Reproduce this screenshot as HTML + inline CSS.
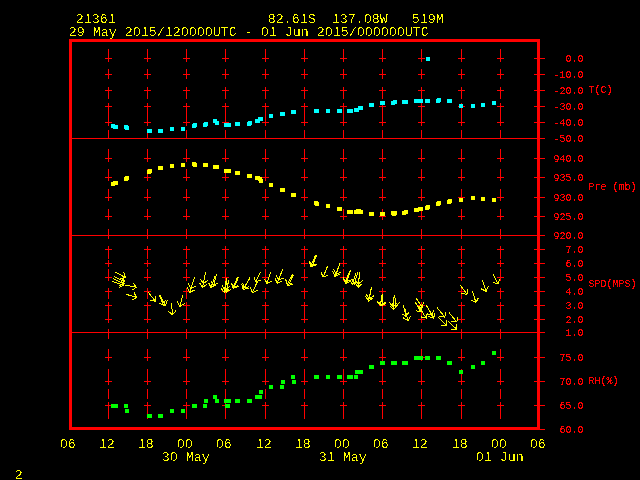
<!DOCTYPE html>
<html><head><meta charset="utf-8"><title>Meteogram 21361</title>
<style>
html,body{margin:0;padding:0;background:#000;}
body{width:640px;height:480px;position:relative;overflow:hidden;}
.y,.r{position:absolute;white-space:pre;font-family:"Liberation Mono",monospace;}
.y{color:#ffff00;font-size:13.33px;line-height:15px;filter:url(#crisp);}
.r{color:#ff0000;font-size:10px;line-height:12px;filter:url(#crisp4);}
</style></head><body>
<svg width="640" height="480" viewBox="0 0 640 480" shape-rendering="crispEdges" style="position:absolute;left:0;top:0">
<defs><filter id="crisp" color-interpolation-filters="sRGB" x="0" y="0" width="1" height="1"><feComponentTransfer result="bin"><feFuncA type="discrete" tableValues="0 0 0 0 0 0 0 0 0 0 0 0 1 1 1 1 1 1 1 1"/></feComponentTransfer><feConvolveMatrix in="bin" order="3" kernelMatrix="1 1 1 1 0 1 1 1 1" divisor="1" bias="0" edgeMode="none" preserveAlpha="false" result="nb"/><feComposite in="bin" in2="nb" operator="in"/></filter></defs>
<defs><filter id="crisp4" color-interpolation-filters="sRGB" x="0" y="0" width="1" height="1"><feComponentTransfer><feFuncA type="discrete" tableValues="0 0 0 0 0 0 0 0 1 1 1 1 1 1 1 1 1 1 1 1"/></feComponentTransfer></filter></defs>
<g fill="#ff0000">
<rect x="108" y="49" width="1" height="13"/>
<rect x="108" y="69" width="1" height="10"/>
<rect x="108" y="87" width="1" height="12"/>
<rect x="108" y="103" width="1" height="23"/>
<rect x="108" y="130" width="1" height="9"/>
<rect x="108" y="149" width="1" height="13"/>
<rect x="108" y="169" width="1" height="12"/>
<rect x="108" y="189" width="1" height="12"/>
<rect x="108" y="209" width="1" height="11"/>
<rect x="108" y="229" width="1" height="10"/>
<rect x="108" y="246" width="1" height="13"/>
<rect x="108" y="260" width="1" height="7"/>
<rect x="108" y="269" width="1" height="12"/>
<rect x="108" y="288" width="1" height="11"/>
<rect x="108" y="302" width="1" height="21"/>
<rect x="108" y="329" width="1" height="10"/>
<rect x="108" y="349" width="1" height="12"/>
<rect x="108" y="369" width="1" height="16"/>
<rect x="108" y="389" width="1" height="10"/>
<rect x="108" y="402" width="1" height="17"/>
<rect x="105" y="58" width="7" height="1"/>
<rect x="105" y="74" width="7" height="1"/>
<rect x="105" y="90" width="7" height="1"/>
<rect x="105" y="106" width="7" height="1"/>
<rect x="105" y="122" width="7" height="1"/>
<rect x="105" y="158" width="7" height="1"/>
<rect x="105" y="177" width="7" height="1"/>
<rect x="105" y="197" width="7" height="1"/>
<rect x="105" y="216" width="7" height="1"/>
<rect x="105" y="249" width="7" height="1"/>
<rect x="105" y="263" width="7" height="1"/>
<rect x="105" y="277" width="7" height="1"/>
<rect x="105" y="291" width="7" height="1"/>
<rect x="105" y="305" width="7" height="1"/>
<rect x="105" y="319" width="7" height="1"/>
<rect x="105" y="357" width="7" height="1"/>
<rect x="105" y="381" width="7" height="1"/>
<rect x="105" y="405" width="7" height="1"/>
<rect x="147" y="49" width="1" height="13"/>
<rect x="147" y="69" width="1" height="10"/>
<rect x="147" y="87" width="1" height="12"/>
<rect x="147" y="103" width="1" height="23"/>
<rect x="147" y="130" width="1" height="9"/>
<rect x="147" y="149" width="1" height="13"/>
<rect x="147" y="169" width="1" height="12"/>
<rect x="147" y="189" width="1" height="12"/>
<rect x="147" y="209" width="1" height="11"/>
<rect x="147" y="229" width="1" height="10"/>
<rect x="147" y="246" width="1" height="13"/>
<rect x="147" y="260" width="1" height="7"/>
<rect x="147" y="269" width="1" height="12"/>
<rect x="147" y="288" width="1" height="11"/>
<rect x="147" y="302" width="1" height="21"/>
<rect x="147" y="329" width="1" height="10"/>
<rect x="147" y="349" width="1" height="12"/>
<rect x="147" y="369" width="1" height="16"/>
<rect x="147" y="389" width="1" height="10"/>
<rect x="147" y="402" width="1" height="17"/>
<rect x="144" y="58" width="7" height="1"/>
<rect x="144" y="74" width="7" height="1"/>
<rect x="144" y="90" width="7" height="1"/>
<rect x="144" y="106" width="7" height="1"/>
<rect x="144" y="122" width="7" height="1"/>
<rect x="144" y="158" width="7" height="1"/>
<rect x="144" y="177" width="7" height="1"/>
<rect x="144" y="197" width="7" height="1"/>
<rect x="144" y="216" width="7" height="1"/>
<rect x="144" y="249" width="7" height="1"/>
<rect x="144" y="263" width="7" height="1"/>
<rect x="144" y="277" width="7" height="1"/>
<rect x="144" y="291" width="7" height="1"/>
<rect x="144" y="305" width="7" height="1"/>
<rect x="144" y="319" width="7" height="1"/>
<rect x="144" y="357" width="7" height="1"/>
<rect x="144" y="381" width="7" height="1"/>
<rect x="144" y="405" width="7" height="1"/>
<rect x="186" y="49" width="1" height="13"/>
<rect x="186" y="69" width="1" height="10"/>
<rect x="186" y="87" width="1" height="12"/>
<rect x="186" y="103" width="1" height="23"/>
<rect x="186" y="130" width="1" height="9"/>
<rect x="186" y="149" width="1" height="13"/>
<rect x="186" y="169" width="1" height="12"/>
<rect x="186" y="189" width="1" height="12"/>
<rect x="186" y="209" width="1" height="11"/>
<rect x="186" y="229" width="1" height="10"/>
<rect x="186" y="246" width="1" height="13"/>
<rect x="186" y="260" width="1" height="7"/>
<rect x="186" y="269" width="1" height="12"/>
<rect x="186" y="288" width="1" height="11"/>
<rect x="186" y="302" width="1" height="21"/>
<rect x="186" y="329" width="1" height="10"/>
<rect x="186" y="349" width="1" height="12"/>
<rect x="186" y="369" width="1" height="16"/>
<rect x="186" y="389" width="1" height="10"/>
<rect x="186" y="402" width="1" height="17"/>
<rect x="183" y="58" width="7" height="1"/>
<rect x="183" y="74" width="7" height="1"/>
<rect x="183" y="90" width="7" height="1"/>
<rect x="183" y="106" width="7" height="1"/>
<rect x="183" y="122" width="7" height="1"/>
<rect x="183" y="158" width="7" height="1"/>
<rect x="183" y="177" width="7" height="1"/>
<rect x="183" y="197" width="7" height="1"/>
<rect x="183" y="216" width="7" height="1"/>
<rect x="183" y="249" width="7" height="1"/>
<rect x="183" y="263" width="7" height="1"/>
<rect x="183" y="277" width="7" height="1"/>
<rect x="183" y="291" width="7" height="1"/>
<rect x="183" y="305" width="7" height="1"/>
<rect x="183" y="319" width="7" height="1"/>
<rect x="183" y="357" width="7" height="1"/>
<rect x="183" y="381" width="7" height="1"/>
<rect x="183" y="405" width="7" height="1"/>
<rect x="225" y="49" width="1" height="13"/>
<rect x="225" y="69" width="1" height="10"/>
<rect x="225" y="87" width="1" height="12"/>
<rect x="225" y="103" width="1" height="23"/>
<rect x="225" y="130" width="1" height="9"/>
<rect x="225" y="149" width="1" height="13"/>
<rect x="225" y="169" width="1" height="12"/>
<rect x="225" y="189" width="1" height="12"/>
<rect x="225" y="209" width="1" height="11"/>
<rect x="225" y="229" width="1" height="10"/>
<rect x="225" y="246" width="1" height="13"/>
<rect x="225" y="260" width="1" height="7"/>
<rect x="225" y="269" width="1" height="12"/>
<rect x="225" y="288" width="1" height="11"/>
<rect x="225" y="302" width="1" height="21"/>
<rect x="225" y="329" width="1" height="10"/>
<rect x="225" y="349" width="1" height="12"/>
<rect x="225" y="369" width="1" height="16"/>
<rect x="225" y="389" width="1" height="10"/>
<rect x="225" y="402" width="1" height="17"/>
<rect x="222" y="58" width="7" height="1"/>
<rect x="222" y="74" width="7" height="1"/>
<rect x="222" y="90" width="7" height="1"/>
<rect x="222" y="106" width="7" height="1"/>
<rect x="222" y="122" width="7" height="1"/>
<rect x="222" y="158" width="7" height="1"/>
<rect x="222" y="177" width="7" height="1"/>
<rect x="222" y="197" width="7" height="1"/>
<rect x="222" y="216" width="7" height="1"/>
<rect x="222" y="249" width="7" height="1"/>
<rect x="222" y="263" width="7" height="1"/>
<rect x="222" y="277" width="7" height="1"/>
<rect x="222" y="291" width="7" height="1"/>
<rect x="222" y="305" width="7" height="1"/>
<rect x="222" y="319" width="7" height="1"/>
<rect x="222" y="357" width="7" height="1"/>
<rect x="222" y="381" width="7" height="1"/>
<rect x="222" y="405" width="7" height="1"/>
<rect x="265" y="49" width="1" height="13"/>
<rect x="265" y="69" width="1" height="10"/>
<rect x="265" y="87" width="1" height="12"/>
<rect x="265" y="103" width="1" height="23"/>
<rect x="265" y="130" width="1" height="9"/>
<rect x="265" y="149" width="1" height="13"/>
<rect x="265" y="169" width="1" height="12"/>
<rect x="265" y="189" width="1" height="12"/>
<rect x="265" y="209" width="1" height="11"/>
<rect x="265" y="229" width="1" height="10"/>
<rect x="265" y="246" width="1" height="13"/>
<rect x="265" y="260" width="1" height="7"/>
<rect x="265" y="269" width="1" height="12"/>
<rect x="265" y="288" width="1" height="11"/>
<rect x="265" y="302" width="1" height="21"/>
<rect x="265" y="329" width="1" height="10"/>
<rect x="265" y="349" width="1" height="12"/>
<rect x="265" y="369" width="1" height="16"/>
<rect x="265" y="389" width="1" height="10"/>
<rect x="265" y="402" width="1" height="17"/>
<rect x="262" y="58" width="7" height="1"/>
<rect x="262" y="74" width="7" height="1"/>
<rect x="262" y="90" width="7" height="1"/>
<rect x="262" y="106" width="7" height="1"/>
<rect x="262" y="122" width="7" height="1"/>
<rect x="262" y="158" width="7" height="1"/>
<rect x="262" y="177" width="7" height="1"/>
<rect x="262" y="197" width="7" height="1"/>
<rect x="262" y="216" width="7" height="1"/>
<rect x="262" y="249" width="7" height="1"/>
<rect x="262" y="263" width="7" height="1"/>
<rect x="262" y="277" width="7" height="1"/>
<rect x="262" y="291" width="7" height="1"/>
<rect x="262" y="305" width="7" height="1"/>
<rect x="262" y="319" width="7" height="1"/>
<rect x="262" y="357" width="7" height="1"/>
<rect x="262" y="381" width="7" height="1"/>
<rect x="262" y="405" width="7" height="1"/>
<rect x="304" y="49" width="1" height="13"/>
<rect x="304" y="69" width="1" height="10"/>
<rect x="304" y="87" width="1" height="12"/>
<rect x="304" y="103" width="1" height="23"/>
<rect x="304" y="130" width="1" height="9"/>
<rect x="304" y="149" width="1" height="13"/>
<rect x="304" y="169" width="1" height="12"/>
<rect x="304" y="189" width="1" height="12"/>
<rect x="304" y="209" width="1" height="11"/>
<rect x="304" y="229" width="1" height="10"/>
<rect x="304" y="246" width="1" height="13"/>
<rect x="304" y="260" width="1" height="7"/>
<rect x="304" y="269" width="1" height="12"/>
<rect x="304" y="288" width="1" height="11"/>
<rect x="304" y="302" width="1" height="21"/>
<rect x="304" y="329" width="1" height="10"/>
<rect x="304" y="349" width="1" height="12"/>
<rect x="304" y="369" width="1" height="16"/>
<rect x="304" y="389" width="1" height="10"/>
<rect x="304" y="402" width="1" height="17"/>
<rect x="301" y="58" width="7" height="1"/>
<rect x="301" y="74" width="7" height="1"/>
<rect x="301" y="90" width="7" height="1"/>
<rect x="301" y="106" width="7" height="1"/>
<rect x="301" y="122" width="7" height="1"/>
<rect x="301" y="158" width="7" height="1"/>
<rect x="301" y="177" width="7" height="1"/>
<rect x="301" y="197" width="7" height="1"/>
<rect x="301" y="216" width="7" height="1"/>
<rect x="301" y="249" width="7" height="1"/>
<rect x="301" y="263" width="7" height="1"/>
<rect x="301" y="277" width="7" height="1"/>
<rect x="301" y="291" width="7" height="1"/>
<rect x="301" y="305" width="7" height="1"/>
<rect x="301" y="319" width="7" height="1"/>
<rect x="301" y="357" width="7" height="1"/>
<rect x="301" y="381" width="7" height="1"/>
<rect x="301" y="405" width="7" height="1"/>
<rect x="343" y="49" width="1" height="13"/>
<rect x="343" y="69" width="1" height="10"/>
<rect x="343" y="87" width="1" height="12"/>
<rect x="343" y="103" width="1" height="23"/>
<rect x="343" y="130" width="1" height="9"/>
<rect x="343" y="149" width="1" height="13"/>
<rect x="343" y="169" width="1" height="12"/>
<rect x="343" y="189" width="1" height="12"/>
<rect x="343" y="209" width="1" height="11"/>
<rect x="343" y="229" width="1" height="10"/>
<rect x="343" y="246" width="1" height="13"/>
<rect x="343" y="260" width="1" height="7"/>
<rect x="343" y="269" width="1" height="12"/>
<rect x="343" y="288" width="1" height="11"/>
<rect x="343" y="302" width="1" height="21"/>
<rect x="343" y="329" width="1" height="10"/>
<rect x="343" y="349" width="1" height="12"/>
<rect x="343" y="369" width="1" height="16"/>
<rect x="343" y="389" width="1" height="10"/>
<rect x="343" y="402" width="1" height="17"/>
<rect x="340" y="58" width="7" height="1"/>
<rect x="340" y="74" width="7" height="1"/>
<rect x="340" y="90" width="7" height="1"/>
<rect x="340" y="106" width="7" height="1"/>
<rect x="340" y="122" width="7" height="1"/>
<rect x="340" y="158" width="7" height="1"/>
<rect x="340" y="177" width="7" height="1"/>
<rect x="340" y="197" width="7" height="1"/>
<rect x="340" y="216" width="7" height="1"/>
<rect x="340" y="249" width="7" height="1"/>
<rect x="340" y="263" width="7" height="1"/>
<rect x="340" y="277" width="7" height="1"/>
<rect x="340" y="291" width="7" height="1"/>
<rect x="340" y="305" width="7" height="1"/>
<rect x="340" y="319" width="7" height="1"/>
<rect x="340" y="357" width="7" height="1"/>
<rect x="340" y="381" width="7" height="1"/>
<rect x="340" y="405" width="7" height="1"/>
<rect x="382" y="49" width="1" height="13"/>
<rect x="382" y="69" width="1" height="10"/>
<rect x="382" y="87" width="1" height="12"/>
<rect x="382" y="103" width="1" height="23"/>
<rect x="382" y="130" width="1" height="9"/>
<rect x="382" y="149" width="1" height="13"/>
<rect x="382" y="169" width="1" height="12"/>
<rect x="382" y="189" width="1" height="12"/>
<rect x="382" y="209" width="1" height="11"/>
<rect x="382" y="229" width="1" height="10"/>
<rect x="382" y="246" width="1" height="13"/>
<rect x="382" y="260" width="1" height="7"/>
<rect x="382" y="269" width="1" height="12"/>
<rect x="382" y="288" width="1" height="11"/>
<rect x="382" y="302" width="1" height="21"/>
<rect x="382" y="329" width="1" height="10"/>
<rect x="382" y="349" width="1" height="12"/>
<rect x="382" y="369" width="1" height="16"/>
<rect x="382" y="389" width="1" height="10"/>
<rect x="382" y="402" width="1" height="17"/>
<rect x="379" y="58" width="7" height="1"/>
<rect x="379" y="74" width="7" height="1"/>
<rect x="379" y="90" width="7" height="1"/>
<rect x="379" y="106" width="7" height="1"/>
<rect x="379" y="122" width="7" height="1"/>
<rect x="379" y="158" width="7" height="1"/>
<rect x="379" y="177" width="7" height="1"/>
<rect x="379" y="197" width="7" height="1"/>
<rect x="379" y="216" width="7" height="1"/>
<rect x="379" y="249" width="7" height="1"/>
<rect x="379" y="263" width="7" height="1"/>
<rect x="379" y="277" width="7" height="1"/>
<rect x="379" y="291" width="7" height="1"/>
<rect x="379" y="305" width="7" height="1"/>
<rect x="379" y="319" width="7" height="1"/>
<rect x="379" y="357" width="7" height="1"/>
<rect x="379" y="381" width="7" height="1"/>
<rect x="379" y="405" width="7" height="1"/>
<rect x="421" y="49" width="1" height="13"/>
<rect x="421" y="69" width="1" height="10"/>
<rect x="421" y="87" width="1" height="12"/>
<rect x="421" y="103" width="1" height="23"/>
<rect x="421" y="130" width="1" height="9"/>
<rect x="421" y="149" width="1" height="13"/>
<rect x="421" y="169" width="1" height="12"/>
<rect x="421" y="189" width="1" height="12"/>
<rect x="421" y="209" width="1" height="11"/>
<rect x="421" y="229" width="1" height="10"/>
<rect x="421" y="246" width="1" height="13"/>
<rect x="421" y="260" width="1" height="7"/>
<rect x="421" y="269" width="1" height="12"/>
<rect x="421" y="288" width="1" height="11"/>
<rect x="421" y="302" width="1" height="21"/>
<rect x="421" y="329" width="1" height="10"/>
<rect x="421" y="349" width="1" height="12"/>
<rect x="421" y="369" width="1" height="16"/>
<rect x="421" y="389" width="1" height="10"/>
<rect x="421" y="402" width="1" height="17"/>
<rect x="418" y="58" width="7" height="1"/>
<rect x="418" y="74" width="7" height="1"/>
<rect x="418" y="90" width="7" height="1"/>
<rect x="418" y="106" width="7" height="1"/>
<rect x="418" y="122" width="7" height="1"/>
<rect x="418" y="158" width="7" height="1"/>
<rect x="418" y="177" width="7" height="1"/>
<rect x="418" y="197" width="7" height="1"/>
<rect x="418" y="216" width="7" height="1"/>
<rect x="418" y="249" width="7" height="1"/>
<rect x="418" y="263" width="7" height="1"/>
<rect x="418" y="277" width="7" height="1"/>
<rect x="418" y="291" width="7" height="1"/>
<rect x="418" y="305" width="7" height="1"/>
<rect x="418" y="319" width="7" height="1"/>
<rect x="418" y="357" width="7" height="1"/>
<rect x="418" y="381" width="7" height="1"/>
<rect x="418" y="405" width="7" height="1"/>
<rect x="461" y="49" width="1" height="13"/>
<rect x="461" y="69" width="1" height="10"/>
<rect x="461" y="87" width="1" height="12"/>
<rect x="461" y="103" width="1" height="23"/>
<rect x="461" y="130" width="1" height="9"/>
<rect x="461" y="149" width="1" height="13"/>
<rect x="461" y="169" width="1" height="12"/>
<rect x="461" y="189" width="1" height="12"/>
<rect x="461" y="209" width="1" height="11"/>
<rect x="461" y="229" width="1" height="10"/>
<rect x="461" y="246" width="1" height="13"/>
<rect x="461" y="260" width="1" height="7"/>
<rect x="461" y="269" width="1" height="12"/>
<rect x="461" y="288" width="1" height="11"/>
<rect x="461" y="302" width="1" height="21"/>
<rect x="461" y="329" width="1" height="10"/>
<rect x="461" y="349" width="1" height="12"/>
<rect x="461" y="369" width="1" height="16"/>
<rect x="461" y="389" width="1" height="10"/>
<rect x="461" y="402" width="1" height="17"/>
<rect x="458" y="58" width="7" height="1"/>
<rect x="458" y="74" width="7" height="1"/>
<rect x="458" y="90" width="7" height="1"/>
<rect x="458" y="106" width="7" height="1"/>
<rect x="458" y="122" width="7" height="1"/>
<rect x="458" y="158" width="7" height="1"/>
<rect x="458" y="177" width="7" height="1"/>
<rect x="458" y="197" width="7" height="1"/>
<rect x="458" y="216" width="7" height="1"/>
<rect x="458" y="249" width="7" height="1"/>
<rect x="458" y="263" width="7" height="1"/>
<rect x="458" y="277" width="7" height="1"/>
<rect x="458" y="291" width="7" height="1"/>
<rect x="458" y="305" width="7" height="1"/>
<rect x="458" y="319" width="7" height="1"/>
<rect x="458" y="357" width="7" height="1"/>
<rect x="458" y="381" width="7" height="1"/>
<rect x="458" y="405" width="7" height="1"/>
<rect x="500" y="49" width="1" height="13"/>
<rect x="500" y="69" width="1" height="10"/>
<rect x="500" y="87" width="1" height="12"/>
<rect x="500" y="103" width="1" height="23"/>
<rect x="500" y="130" width="1" height="9"/>
<rect x="500" y="149" width="1" height="13"/>
<rect x="500" y="169" width="1" height="12"/>
<rect x="500" y="189" width="1" height="12"/>
<rect x="500" y="209" width="1" height="11"/>
<rect x="500" y="229" width="1" height="10"/>
<rect x="500" y="246" width="1" height="13"/>
<rect x="500" y="260" width="1" height="7"/>
<rect x="500" y="269" width="1" height="12"/>
<rect x="500" y="288" width="1" height="11"/>
<rect x="500" y="302" width="1" height="21"/>
<rect x="500" y="329" width="1" height="10"/>
<rect x="500" y="349" width="1" height="12"/>
<rect x="500" y="369" width="1" height="16"/>
<rect x="500" y="389" width="1" height="10"/>
<rect x="500" y="402" width="1" height="17"/>
<rect x="497" y="58" width="7" height="1"/>
<rect x="497" y="74" width="7" height="1"/>
<rect x="497" y="90" width="7" height="1"/>
<rect x="497" y="106" width="7" height="1"/>
<rect x="497" y="122" width="7" height="1"/>
<rect x="497" y="158" width="7" height="1"/>
<rect x="497" y="177" width="7" height="1"/>
<rect x="497" y="197" width="7" height="1"/>
<rect x="497" y="216" width="7" height="1"/>
<rect x="497" y="249" width="7" height="1"/>
<rect x="497" y="263" width="7" height="1"/>
<rect x="497" y="277" width="7" height="1"/>
<rect x="497" y="291" width="7" height="1"/>
<rect x="497" y="305" width="7" height="1"/>
<rect x="497" y="319" width="7" height="1"/>
<rect x="497" y="357" width="7" height="1"/>
<rect x="497" y="381" width="7" height="1"/>
<rect x="497" y="405" width="7" height="1"/>
<rect x="72" y="138" width="465" height="1"/>
<rect x="72" y="235" width="465" height="1"/>
<rect x="72" y="332" width="465" height="1"/>
<rect x="534" y="58" width="11" height="1"/>
<rect x="534" y="74" width="11" height="1"/>
<rect x="534" y="90" width="11" height="1"/>
<rect x="534" y="106" width="11" height="1"/>
<rect x="534" y="122" width="11" height="1"/>
<rect x="534" y="138" width="11" height="1"/>
<rect x="534" y="158" width="11" height="1"/>
<rect x="534" y="177" width="11" height="1"/>
<rect x="534" y="197" width="11" height="1"/>
<rect x="534" y="216" width="11" height="1"/>
<rect x="534" y="235" width="11" height="1"/>
<rect x="534" y="249" width="11" height="1"/>
<rect x="534" y="263" width="11" height="1"/>
<rect x="534" y="277" width="11" height="1"/>
<rect x="534" y="291" width="11" height="1"/>
<rect x="534" y="305" width="11" height="1"/>
<rect x="534" y="319" width="11" height="1"/>
<rect x="534" y="332" width="11" height="1"/>
<rect x="534" y="357" width="11" height="1"/>
<rect x="534" y="381" width="11" height="1"/>
<rect x="534" y="405" width="11" height="1"/>
<rect x="534" y="429" width="11" height="1"/>
<rect x="69" y="39" width="471" height="3"/>
<rect x="69" y="427" width="471" height="3"/>
<rect x="69" y="39" width="3" height="391"/>
<rect x="537" y="39" width="3" height="391"/>
</g>
<g fill="#00ffff">
<rect x="111" y="124" width="4" height="4"/>
<rect x="113" y="125" width="5" height="4"/>
<rect x="124" y="125" width="4" height="4"/>
<rect x="125" y="126" width="4" height="4"/>
<rect x="147" y="129" width="5" height="4"/>
<rect x="158" y="129" width="5" height="4"/>
<rect x="170" y="127" width="4" height="4"/>
<rect x="181" y="127" width="4" height="4"/>
<rect x="192" y="124" width="4" height="4"/>
<rect x="193" y="123" width="4" height="4"/>
<rect x="203" y="123" width="4" height="4"/>
<rect x="204" y="122" width="4" height="4"/>
<rect x="213" y="119" width="4" height="4"/>
<rect x="215" y="121" width="4" height="4"/>
<rect x="224" y="123" width="7" height="4"/>
<rect x="235" y="122" width="5" height="4"/>
<rect x="247" y="122" width="4" height="4"/>
<rect x="248" y="121" width="4" height="4"/>
<rect x="255" y="119" width="5" height="4"/>
<rect x="258" y="117" width="5" height="4"/>
<rect x="269" y="114" width="4" height="4"/>
<rect x="280" y="112" width="5" height="4"/>
<rect x="291" y="110" width="5" height="4"/>
<rect x="314" y="109" width="5" height="4"/>
<rect x="326" y="109" width="4" height="4"/>
<rect x="337" y="109" width="5" height="4"/>
<rect x="347" y="109" width="6" height="4"/>
<rect x="354" y="108" width="5" height="4"/>
<rect x="358" y="106" width="5" height="4"/>
<rect x="369" y="103" width="5" height="4"/>
<rect x="380" y="101" width="5" height="4"/>
<rect x="391" y="101" width="4" height="4"/>
<rect x="393" y="100" width="4" height="4"/>
<rect x="402" y="100" width="6" height="4"/>
<rect x="414" y="99" width="9" height="4"/>
<rect x="425" y="99" width="5" height="4"/>
<rect x="436" y="99" width="4" height="4"/>
<rect x="437" y="98" width="4" height="4"/>
<rect x="447" y="99" width="5" height="4"/>
<rect x="459" y="104" width="4" height="4"/>
<rect x="471" y="104" width="4" height="4"/>
<rect x="481" y="103" width="4" height="4"/>
<rect x="492" y="101" width="4" height="4"/>
<rect x="426" y="57" width="4" height="4"/>
</g>
<g fill="#ffff00">
<rect x="111" y="182" width="4" height="4"/>
<rect x="113" y="181" width="5" height="4"/>
<rect x="124" y="177" width="4" height="4"/>
<rect x="125" y="176" width="4" height="4"/>
<rect x="147" y="170" width="4" height="4"/>
<rect x="148" y="169" width="4" height="4"/>
<rect x="158" y="166" width="5" height="4"/>
<rect x="170" y="164" width="4" height="4"/>
<rect x="181" y="163" width="4" height="4"/>
<rect x="192" y="162" width="4" height="4"/>
<rect x="193" y="163" width="4" height="4"/>
<rect x="203" y="163" width="5" height="4"/>
<rect x="213" y="165" width="6" height="4"/>
<rect x="224" y="169" width="7" height="4"/>
<rect x="235" y="171" width="5" height="4"/>
<rect x="247" y="174" width="5" height="4"/>
<rect x="255" y="176" width="5" height="4"/>
<rect x="258" y="177" width="4" height="4"/>
<rect x="259" y="179" width="4" height="4"/>
<rect x="269" y="183" width="4" height="4"/>
<rect x="280" y="188" width="5" height="4"/>
<rect x="291" y="193" width="5" height="4"/>
<rect x="314" y="201" width="4" height="4"/>
<rect x="315" y="202" width="4" height="4"/>
<rect x="326" y="204" width="4" height="4"/>
<rect x="337" y="207" width="5" height="4"/>
<rect x="347" y="210" width="6" height="4"/>
<rect x="354" y="210" width="5" height="4"/>
<rect x="356" y="209" width="5" height="4"/>
<rect x="358" y="210" width="5" height="4"/>
<rect x="369" y="212" width="5" height="4"/>
<rect x="380" y="212" width="5" height="4"/>
<rect x="391" y="211" width="6" height="4"/>
<rect x="392" y="212" width="4" height="4"/>
<rect x="402" y="211" width="4" height="4"/>
<rect x="404" y="210" width="4" height="4"/>
<rect x="414" y="208" width="5" height="4"/>
<rect x="418" y="207" width="5" height="4"/>
<rect x="425" y="206" width="4" height="4"/>
<rect x="426" y="205" width="4" height="4"/>
<rect x="436" y="202" width="4" height="4"/>
<rect x="437" y="201" width="4" height="4"/>
<rect x="447" y="200" width="4" height="4"/>
<rect x="448" y="199" width="4" height="4"/>
<rect x="459" y="198" width="4" height="4"/>
<rect x="471" y="196" width="4" height="4"/>
<rect x="481" y="197" width="4" height="4"/>
<rect x="492" y="198" width="4" height="4"/>
</g>
<g fill="#00ff00">
<rect x="111" y="404" width="7" height="4"/>
<rect x="124" y="404" width="4" height="4"/>
<rect x="125" y="409" width="4" height="4"/>
<rect x="147" y="414" width="5" height="4"/>
<rect x="158" y="414" width="5" height="4"/>
<rect x="170" y="409" width="4" height="4"/>
<rect x="181" y="409" width="4" height="4"/>
<rect x="192" y="404" width="5" height="4"/>
<rect x="203" y="404" width="4" height="4"/>
<rect x="204" y="399" width="4" height="4"/>
<rect x="213" y="395" width="4" height="4"/>
<rect x="215" y="399" width="4" height="4"/>
<rect x="224" y="399" width="7" height="4"/>
<rect x="225" y="404" width="5" height="4"/>
<rect x="235" y="399" width="5" height="4"/>
<rect x="247" y="399" width="5" height="4"/>
<rect x="255" y="395" width="7" height="4"/>
<rect x="259" y="390" width="4" height="4"/>
<rect x="269" y="385" width="4" height="4"/>
<rect x="280" y="385" width="4" height="4"/>
<rect x="281" y="380" width="4" height="4"/>
<rect x="291" y="375" width="4" height="4"/>
<rect x="292" y="380" width="4" height="4"/>
<rect x="314" y="375" width="5" height="4"/>
<rect x="326" y="375" width="4" height="4"/>
<rect x="337" y="375" width="5" height="4"/>
<rect x="347" y="375" width="6" height="4"/>
<rect x="354" y="375" width="4" height="4"/>
<rect x="355" y="370" width="8" height="4"/>
<rect x="369" y="365" width="5" height="4"/>
<rect x="380" y="361" width="5" height="4"/>
<rect x="391" y="361" width="6" height="4"/>
<rect x="402" y="361" width="6" height="4"/>
<rect x="414" y="356" width="9" height="4"/>
<rect x="425" y="356" width="5" height="4"/>
<rect x="436" y="356" width="5" height="4"/>
<rect x="447" y="361" width="5" height="4"/>
<rect x="459" y="370" width="4" height="4"/>
<rect x="471" y="365" width="4" height="4"/>
<rect x="481" y="361" width="4" height="4"/>
<rect x="492" y="351" width="4" height="4"/>
</g>
<g stroke="#ffff00" stroke-width="1" fill="none" stroke-linecap="square">
<path d="M115.00 272.00L125.30 277.20M123.74 272.45L125.30 277.20L120.55 278.76"/>
<path d="M114.30 276.60L124.50 281.50M122.84 276.78L124.50 281.50L119.78 283.16"/>
<path d="M113.70 278.70L124.20 284.00M122.64 279.25L124.20 284.00L119.45 285.56"/>
<path d="M112.20 281.50L123.70 285.30M121.45 280.83L123.70 285.30L119.23 287.55"/>
<path d="M125.00 285.00L136.30 287.30M133.54 283.13L136.30 287.30L132.13 290.06"/>
<path d="M126.30 294.30L136.60 297.60M134.31 293.15L136.60 297.60L132.15 299.89"/>
<path d="M148.10 292.10L155.25 301.10M155.82 296.13L155.25 301.10L150.28 300.53"/>
<path d="M159.40 295.10L163.50 305.00M165.41 300.38L163.50 305.00L158.88 303.09"/>
<path d="M160.00 295.00L165.50 305.50M166.99 300.73L165.50 305.50L160.73 304.01"/>
<path d="M171.60 303.60L172.40 314.80M175.67 311.02L172.40 314.80L168.62 311.53"/>
<path d="M182.60 295.10L180.00 306.40M184.24 303.75L180.00 306.40L177.35 302.16"/>
<path d="M194.50 277.50L190.90 288.40M195.37 286.15L190.90 288.40L188.65 283.93"/>
<path d="M193.20 281.60L189.60 292.50M194.07 290.25L189.60 292.50L187.35 288.03"/>
<path d="M205.60 272.25L203.30 283.50M207.47 280.74L203.30 283.50L200.54 279.33"/>
<path d="M204.80 276.00L202.50 287.25M206.67 284.49L202.50 287.25L199.74 283.08"/>
<path d="M216.60 274.10L213.60 285.50M217.92 282.98L213.60 285.50L211.08 281.18"/>
<path d="M214.60 277.00L211.00 287.60M215.48 285.39L211.00 287.60L208.79 283.12"/>
<path d="M226.90 278.30L225.30 290.00M229.28 286.98L225.30 290.00L222.28 286.02"/>
<path d="M228.50 281.00L226.30 292.30M230.45 289.51L226.30 292.30L223.51 288.15"/>
<path d="M226.00 281.00L224.20 292.40M228.24 289.46L224.20 292.40L221.26 288.36"/>
<path d="M237.40 277.50L233.00 287.80M237.64 285.94L233.00 287.80L231.14 283.16"/>
<path d="M238.20 277.90L233.80 288.20M238.44 286.34L233.80 288.20L231.94 283.56"/>
<path d="M249.75 278.00L244.00 288.00M248.83 286.70L244.00 288.00L242.70 283.17"/>
<path d="M249.00 279.50L243.30 289.50M248.12 288.18L243.30 289.50L241.98 284.68"/>
<path d="M260.60 272.25L255.50 281.70M260.29 280.27L255.50 281.70L254.07 276.91"/>
<path d="M257.20 282.00L252.40 292.50M257.09 290.75L252.40 292.50L250.65 287.81"/>
<path d="M270.60 272.25L267.00 283.50M271.44 281.21L267.00 283.50L264.71 279.06"/>
<path d="M282.60 269.50L278.50 280.20M283.07 278.16L278.50 280.20L276.46 275.63"/>
<path d="M281.30 272.50L277.15 283.15M281.73 281.14L277.15 283.15L275.14 278.57"/>
<path d="M292.60 274.40L287.30 284.60M292.07 283.09L287.30 284.60L285.79 279.83"/>
<path d="M293.20 275.50L288.00 285.80M292.75 284.24L288.00 285.80L286.44 281.05"/>
<path d="M315.50 255.50L310.80 266.00M315.47 264.22L310.80 266.00L309.02 261.33"/>
<path d="M316.50 256.00L311.80 266.50M316.47 264.72L311.80 266.50L310.02 261.83"/>
<path d="M327.60 266.10L323.10 277.10M327.71 275.17L323.10 277.10L321.17 272.49"/>
<path d="M339.75 263.40L336.20 274.30M340.66 272.03L336.20 274.30L333.93 269.84"/>
<path d="M339.20 265.50L335.00 276.30M339.58 274.29L335.00 276.30L332.99 271.72"/>
<path d="M349.60 271.50L345.20 282.20M349.81 280.27L345.20 282.20L343.27 277.59"/>
<path d="M350.60 270.60L345.90 283.60M350.43 281.48L345.90 283.60L343.78 279.07"/>
<path d="M355.60 273.60L352.50 284.50M356.87 282.07L352.50 284.50L350.07 280.13"/>
<path d="M357.50 273.00L354.50 284.00M358.84 281.52L354.50 284.00L352.02 279.66"/>
<path d="M359.60 272.50L358.40 284.00M362.28 280.85L358.40 284.00L355.25 280.12"/>
<path d="M359.50 275.50L358.10 287.00M362.04 283.92L358.10 287.00L355.02 283.06"/>
<path d="M371.40 287.50L369.20 298.80M373.35 296.01L369.20 298.80L366.41 294.65"/>
<path d="M370.80 289.70L368.60 301.00M372.75 298.21L368.60 301.00L365.81 296.85"/>
<path d="M382.10 294.25L380.40 305.60M384.42 302.63L380.40 305.60L377.43 301.58"/>
<path d="M383.00 294.50L382.00 306.00M385.83 302.78L382.00 306.00L378.78 302.17"/>
<path d="M394.50 295.30L392.40 306.60M396.52 303.77L392.40 306.60L389.57 302.48"/>
<path d="M394.60 295.30L396.30 306.60M399.27 302.58L396.30 306.60L392.28 303.63"/>
<path d="M393.20 298.00L393.60 309.50M397.01 305.84L393.60 309.50L389.94 306.09"/>
<path d="M403.35 305.40L406.30 316.50M408.81 312.17L406.30 316.50L401.97 313.99"/>
<path d="M405.00 309.50L408.00 320.60M410.49 316.26L408.00 320.60L403.66 318.11"/>
<path d="M416.25 298.25L422.30 307.60M423.35 302.71L422.30 307.60L417.41 306.55"/>
<path d="M415.35 302.40L420.90 312.00M422.19 307.17L420.90 312.00L416.07 310.71"/>
<path d="M420.00 308.50L426.20 318.00M427.23 313.11L426.20 318.00L421.31 316.97"/>
<path d="M426.40 305.40L432.00 315.40M433.36 310.59L432.00 315.40L427.19 314.04"/>
<path d="M428.00 308.00L433.60 318.00M434.96 313.19L433.60 318.00L428.79 316.64"/>
<path d="M437.40 308.10L444.90 317.10M445.35 312.12L444.90 317.10L439.92 316.65"/>
<path d="M438.50 317.50L446.40 325.40M446.40 320.40L446.40 325.40L441.40 325.40"/>
<path d="M449.40 313.00L456.90 322.00M457.35 317.02L456.90 322.00L451.92 321.55"/>
<path d="M448.25 321.25L456.50 329.10M456.38 324.10L456.50 329.10L451.50 329.22"/>
<path d="M460.50 285.25L466.90 294.25M467.73 289.32L466.90 294.25L461.97 293.42"/>
<path d="M472.50 291.25L475.90 302.50M478.26 298.09L475.90 302.50L471.49 300.14"/>
<path d="M482.40 280.40L486.00 291.25M488.24 286.78L486.00 291.25L481.53 289.01"/>
<path d="M493.35 274.40L498.00 284.10M499.66 279.38L498.00 284.10L493.28 282.44"/>
</g>
</svg>
<div class="y" style="left:75.75px;top:12px;">21361                   82.61S  137.08W   519M</div>
<div class="y" style="left:68.75px;top:25px;">29 May 2015/120000UTC - 01 Jun 2015/000000UTC</div>
<div class="y" style="left:59.75px;top:437px;">06</div>
<div class="y" style="left:98.75px;top:437px;">12</div>
<div class="y" style="left:137.75px;top:437px;">18</div>
<div class="y" style="left:176.75px;top:437px;">00</div>
<div class="y" style="left:215.75px;top:437px;">06</div>
<div class="y" style="left:255.75px;top:437px;">12</div>
<div class="y" style="left:294.75px;top:437px;">18</div>
<div class="y" style="left:333.75px;top:437px;">00</div>
<div class="y" style="left:372.75px;top:437px;">06</div>
<div class="y" style="left:411.75px;top:437px;">12</div>
<div class="y" style="left:451.75px;top:437px;">18</div>
<div class="y" style="left:490.75px;top:437px;">00</div>
<div class="y" style="left:529.75px;top:437px;">06</div>
<div class="y" style="left:161.75px;top:450px;">30 May</div>
<div class="y" style="left:318.75px;top:450px;">31 May</div>
<div class="y" style="left:475.75px;top:450px;">01 Jun</div>
<div class="y" style="left:14.75px;top:468px;">2</div>
<div class="r" style="left:565.5px;top:54px;">0.0</div>
<div class="r" style="left:553.5px;top:70px;">-10.0</div>
<div class="r" style="left:553.5px;top:86px;">-20.0</div>
<div class="r" style="left:553.5px;top:102px;">-30.0</div>
<div class="r" style="left:553.5px;top:118px;">-40.0</div>
<div class="r" style="left:553.5px;top:134px;">-50.0</div>
<div class="r" style="left:553.5px;top:154px;">940.0</div>
<div class="r" style="left:553.5px;top:173px;">935.0</div>
<div class="r" style="left:553.5px;top:193px;">930.0</div>
<div class="r" style="left:553.5px;top:212px;">925.0</div>
<div class="r" style="left:553.5px;top:231px;">920.0</div>
<div class="r" style="left:565.5px;top:245px;">7.0</div>
<div class="r" style="left:565.5px;top:259px;">6.0</div>
<div class="r" style="left:565.5px;top:273px;">5.0</div>
<div class="r" style="left:565.5px;top:287px;">4.0</div>
<div class="r" style="left:565.5px;top:301px;">3.0</div>
<div class="r" style="left:565.5px;top:315px;">2.0</div>
<div class="r" style="left:565.5px;top:328px;">1.0</div>
<div class="r" style="left:559.5px;top:353px;">75.0</div>
<div class="r" style="left:559.5px;top:377px;">70.0</div>
<div class="r" style="left:559.5px;top:401px;">65.0</div>
<div class="r" style="left:559.5px;top:425px;">60.0</div>
<div class="r" style="left:588.5px;top:84.5px;">T(C)</div>
<div class="r" style="left:588.5px;top:182px;">Pre (mb)</div>
<div class="r" style="left:588.5px;top:279px;">SPD(MPS)</div>
<div class="r" style="left:588.5px;top:376px;">RH(%)</div>
</body></html>
